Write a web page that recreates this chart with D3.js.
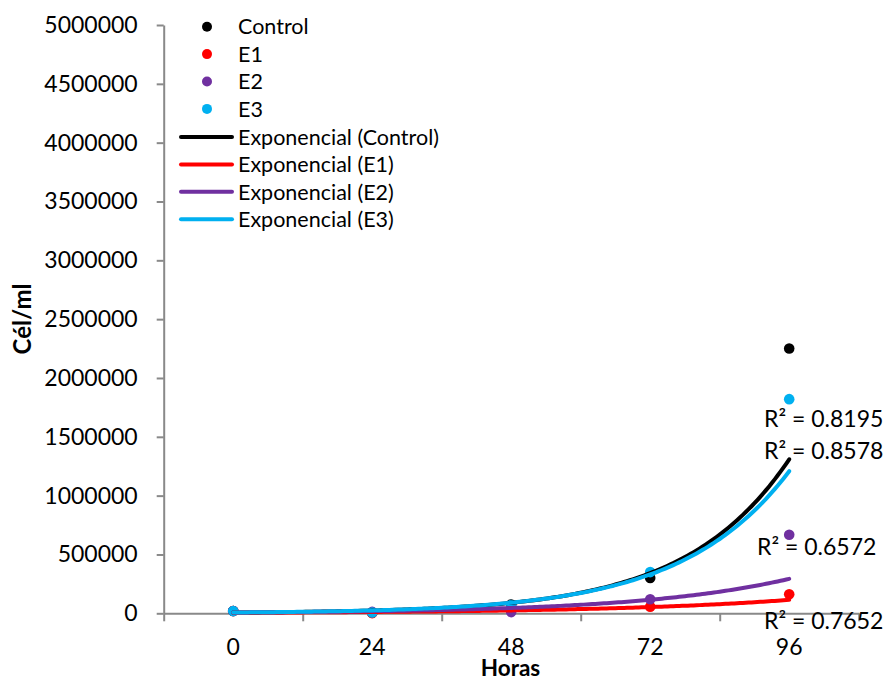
<!DOCTYPE html>
<html>
<head>
<meta charset="utf-8">
<script src="https://cdn.jsdelivr.net/npm/d3@7"></script>
<style>
  body { margin: 0; background: #ffffff; }
  text { font-family: Lato, "Open Sans", sans-serif; fill: #000000; }
</style>
</head>
<body>
<svg id="chart" width="888" height="680"></svg>
<script>
// Cell counts (cél/ml) per sampling time
const hours = [0, 24, 48, 72, 96];
const seriesNames = ["Control", "E1", "E2", "E3"];
const control = [20000, 5600, 75000, 300000, 2250000];
const e1 = [20000, 1700, 29000, 56000, 162000];
const e2 = [20000, 12000, 10000, 120000, 668000];
const e3 = [20000, 6800, 69600, 350000, 1820000];
const seriesValues = [control, e1, e2, e3];
const seriesColors = ["#000000", "#ff0000", "#7030a0", "#00b0f0"];
const r2Text = ["R² = 0.8578", "R² = 0.7652", "R² = 0.6572", "R² = 0.8195"];
const yTickValues = d3.range(0, 5000001, 500000);

// Layout
const plot = { left: 163.7, right: 858.7, top: 25, bottom: 613.3 };
const axisColor = "#898989";
const r2Pos = [[764, 459], [764, 629], [757, 555], [764, 427]];

const svg = d3.select("#chart");

const xBand = d3.scaleBand().domain(hours).range([plot.left, plot.right]).padding(0);
const xCenter = h => xBand(h) + xBand.bandwidth() / 2;
const xCont = d3.scaleLinear().domain([0, 96]).range([xCenter(0), xCenter(96)]);
const y = d3.scaleLinear().domain([0, 5000000]).range([plot.bottom, plot.top]);

// Exponential trend: least squares on ln(y)
function expFit(xs, ys) {
  const ls = ys.map(Math.log);
  const mx = d3.mean(xs), ml = d3.mean(ls);
  let sxy = 0, sxx = 0;
  xs.forEach((x, i) => { sxy += (x - mx) * (ls[i] - ml); sxx += (x - mx) * (x - mx); });
  const b = sxy / sxx;
  const lnA = ml - b * mx;
  return x => Math.exp(lnA + b * x);
}

// Y axis
const yAxis = d3.axisLeft(y).tickValues(yTickValues).tickFormat(d3.format("d"))
  .tickSize(7).tickSizeOuter(0).tickPadding(19);
const gy = svg.append("g").attr("transform", `translate(${plot.left},0)`).call(yAxis);
gy.select(".domain").attr("stroke", axisColor).attr("stroke-width", 2);
gy.selectAll(".tick line").attr("stroke", axisColor).attr("stroke-width", 2);
gy.selectAll(".tick text").style("font-size", "23px").style("font-family", "Lato, sans-serif").attr("fill", "#000");

// X axis: tick marks on category boundaries, labels centred in each category
const xBound = d3.scaleLinear().domain([0, hours.length]).range([plot.left, plot.right]);
const xAxis = d3.axisBottom(xBound).tickValues(d3.range(0, hours.length + 1))
  .tickFormat("").tickSize(8).tickSizeOuter(0);
const gx = svg.append("g").attr("transform", `translate(0,${plot.bottom})`).call(xAxis);
gx.select(".domain").attr("stroke", axisColor).attr("stroke-width", 2);
gx.selectAll(".tick line").attr("stroke", axisColor).attr("stroke-width", 2);

svg.append("g").selectAll("text").data(hours).join("text")
  .attr("x", d => xCenter(d)).attr("y", 655)
  .attr("text-anchor", "middle").style("font-size", "23px")
  .text(d => d);

// Axis titles
svg.append("text").attr("x", 510.5).attr("y", 676).attr("text-anchor", "middle")
  .style("font-size", "22.5px").style("font-weight", "bold").text("Horas");
svg.append("text").attr("transform", "translate(31,319) rotate(-90)")
  .attr("text-anchor", "middle").style("font-size", "24px").style("font-weight", "bold")
  .text("Cél/ml");

// Data markers
seriesValues.forEach((vals, si) => {
  svg.append("g").selectAll("circle").data(vals).join("circle")
    .attr("cx", (d, i) => xCenter(hours[i])).attr("cy", d => y(d))
    .attr("r", 5.3).attr("fill", seriesColors[si]);
});

// Exponential trendlines
const sampleHours = d3.range(0, 96.01, 0.5);
const line = d3.line().x(d => xCont(d[0])).y(d => y(d[1]));
seriesValues.forEach((vals, si) => {
  const f = expFit(hours, vals);
  svg.append("path").datum(sampleHours.map(h => [h, f(h)]))
    .attr("d", line).attr("fill", "none")
    .attr("stroke", seriesColors[si]).attr("stroke-width", 4)
    .attr("stroke-linecap", "round");
});

// R² labels
svg.append("g").selectAll("text").data(r2Text).join("text")
  .attr("x", (d, i) => r2Pos[i][0]).attr("y", (d, i) => r2Pos[i][1])
  .style("font-size", "23px").text(d => d);

// Legend
const legend = svg.append("g");
const rowH = 27.4;
seriesNames.forEach((name, i) => {
  const cy = 26.7 + i * rowH;
  legend.append("circle").attr("cx", 207).attr("cy", cy).attr("r", 5).attr("fill", seriesColors[i]);
  legend.append("text").attr("x", 238).attr("y", cy).attr("dy", "0.36em")
    .style("font-size", "21.5px").text(name);
});
seriesNames.forEach((name, i) => {
  const cy = 137 + i * rowH;
  legend.append("line").attr("x1", 181).attr("x2", 232).attr("y1", cy).attr("y2", cy)
    .attr("stroke", seriesColors[i]).attr("stroke-width", 4).attr("stroke-linecap", "round");
  legend.append("text").attr("x", 238).attr("y", cy).attr("dy", "0.36em")
    .style("font-size", "21.5px").text(`Exponencial (${name})`);
});
</script>
</body>
</html>
